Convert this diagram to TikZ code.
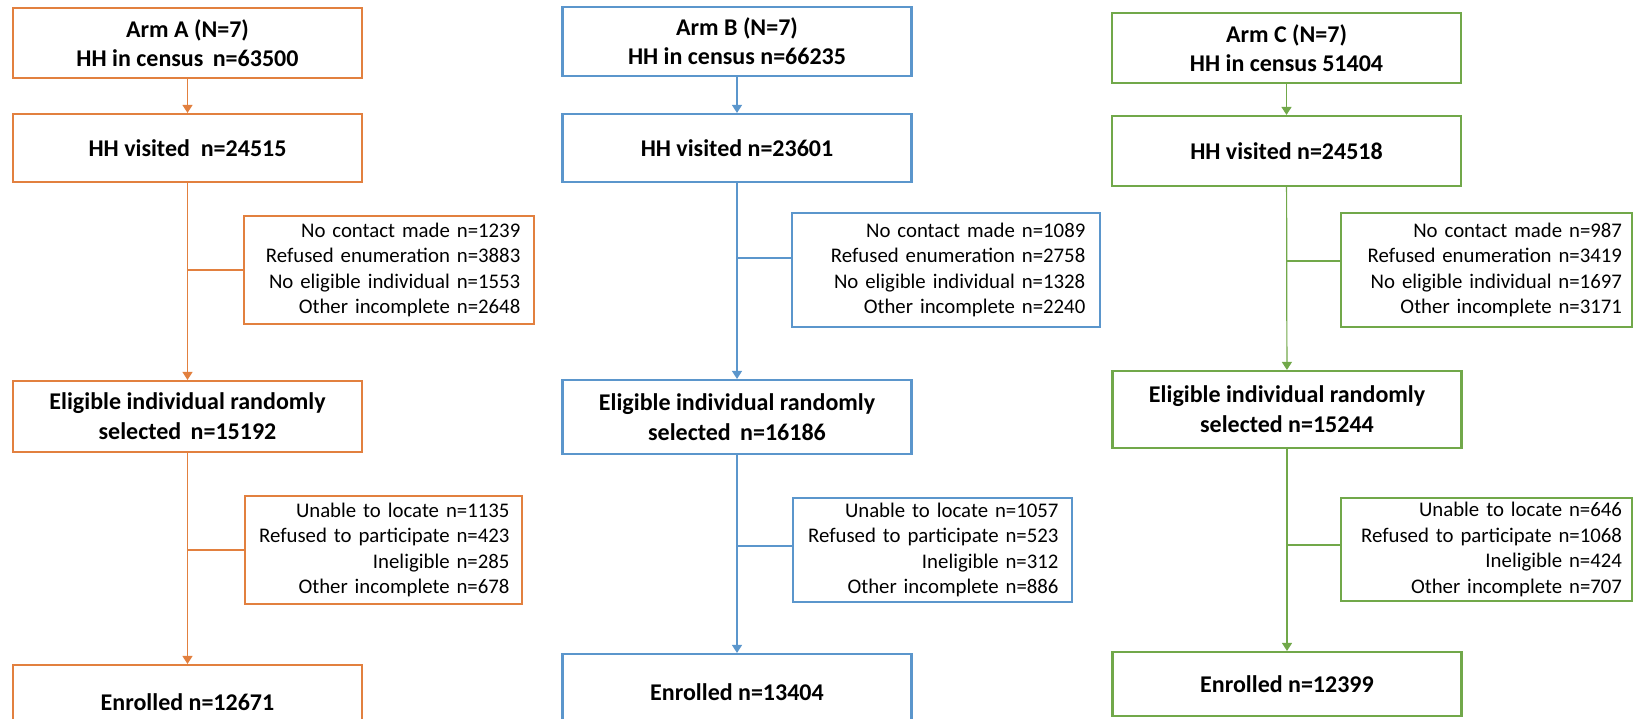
\documentclass[tikz,border=0pt]{standalone}
\usepackage{fontspec}
\setmainfont{Carlito}
\usetikzlibrary{arrows.meta}

\definecolor{colA}{HTML}{E2803F}
\definecolor{colB}{HTML}{5B96CC}
\definecolor{colC}{HTML}{71A84A}

\begin{document}
\begin{tikzpicture}[
  x=0.75pt,
  y=-0.75pt,
  line cap=butt
]

  % styles for boxes and connectors
  \tikzset{
    mainbox/.style={draw=#1, line width=1.6pt, fill=white, minimum width=261.75pt,
      align=center, inner sep=0pt, font=\fontsize{18}{21.75}\selectfont\bfseries},
    dropbox/.style={draw=#1, line width=1.4pt, fill=white, align=right,
      inner sep=0pt, font=\fontsize{15.6}{19.1}\selectfont},
    flow/.style={line width=0.9pt, -{Triangle[width=7.5pt,length=6pt]}},
    branch/.style={line width=0.9pt}
  }

  % one line of a drop-out box, never broken
  \def\dl#1{\mbox{#1}}

  \useasboundingbox (0,0) rectangle (1633,718);

  % arm A
  \node[mainbox=colA, minimum height=52.5pt] (armA) at (187.5,43)
    {Arm A (N=7)\\HH in census\ \,n=63500};
  \node[mainbox=colA, minimum height=51pt] (visitA) at (187.5,148)
    {HH visited\ \ n=24515};
  \node[dropbox=colA, minimum width=217.5pt, text width=197pt,
    minimum height=81pt] (dropA1) at (389,270)
    {\dl{No contact made n=1239}\\\dl{Refused enumeration n=3883}\\
     \dl{No eligible individual n=1553}\\\dl{Other incomplete n=2648}};
  \node[mainbox=colA, minimum height=53.25pt,
    font=\fontsize{18}{22.5}\selectfont\bfseries] (eligA) at (187.5,416.5)
    {Eligible individual randomly\\selected\ \,n=15192};
  \node[dropbox=colA, minimum width=207.75pt, text width=189pt,
    minimum height=81pt] (dropA2) at (383.5,550)
    {\dl{Unable to locate n=1135}\\\dl{Refused to participate n=423}\\
     \dl{Ineligible n=285}\\\dl{Other incomplete n=678}};
  \node[mainbox=colA, minimum height=55.5pt] (enrolA) at (187.5,702)
    {Enrolled n=12671};

  % arm B
  \node[mainbox=colB, minimum height=51.75pt] (armB) at (737,41.5)
    {Arm B (N=7)\\HH in census n=66235};
  \node[mainbox=colB, minimum height=51pt] (visitB) at (737,148)
    {HH visited n=23601};
  \node[dropbox=colB, minimum width=231pt, text width=209pt,
    minimum height=85.5pt] (dropB1) at (946,270)
    {\dl{No contact made n=1089}\\\dl{Refused enumeration n=2758}\\
     \dl{No eligible individual n=1328}\\\dl{Other incomplete n=2240}};
  \node[mainbox=colB, minimum height=55.5pt,
    font=\fontsize{18}{22.5}\selectfont\bfseries] (eligB) at (737,417)
    {Eligible individual randomly\\selected\ \,n=16186};
  \node[dropbox=colB, minimum width=209.25pt, text width=189pt,
    minimum height=78pt] (dropB2) at (932.5,550)
    {\dl{Unable to locate n=1057}\\\dl{Refused to participate n=523}\\
     \dl{Ineligible n=312}\\\dl{Other incomplete n=886}};
  \node[mainbox=colB, minimum height=57pt] (enrolB) at (737,692)
    {Enrolled n=13404};

  % arm C
  \node[mainbox=colC, minimum height=52.5pt] (armC) at (1286.5,48)
    {Arm C (N=7)\\HH in census 51404};
  \node[mainbox=colC, minimum height=52.5pt] (visitC) at (1286.5,151)
    {HH visited n=24518};
  \node[dropbox=colC, minimum width=218.25pt, text width=203.25pt,
    minimum height=85.5pt] (dropC1) at (1486.5,270)
    {\dl{No contact made n=987}\\\dl{Refused enumeration n=3419}\\
     \dl{No eligible individual n=1697}\\\dl{Other incomplete n=3171}};
  \node[mainbox=colC, minimum height=57.75pt,
    font=\fontsize{18}{22.5}\selectfont\bfseries] (eligC) at (1287,409.5)
    {Eligible individual randomly\\selected n=15244};
  \node[dropbox=colC, minimum width=218.25pt, text width=203.25pt,
    minimum height=77.25pt] (dropC2) at (1486.5,549.5)
    {\dl{Unable to locate n=646}\\\dl{Refused to participate n=1068}\\
     \dl{Ineligible n=424}\\\dl{Other incomplete n=707}};
  \node[mainbox=colC, minimum height=48pt] (enrolC) at (1287,684)
    {Enrolled n=12399};

  % connectors, per arm
  \foreach \a/\s/\t in {A/0/0, B/9/3, C/6.75/3.4} {
    \draw[flow, col\a] (arm\a) -- (visit\a);
    \draw[flow, col\a] (visit\a) -- (elig\a);
    \draw[flow, col\a] (elig\a) -- (enrol\a);
    \coordinate (j\a1) at ([yshift=\s pt]drop\a1.west);
    \coordinate (j\a2) at ([yshift=\t pt]drop\a2.west);
    \draw[branch, col\a] (j\a1) -- (j\a1 -| visit\a.south);
    \draw[branch, col\a] (j\a2) -- (j\a2 -| elig\a.south);
  }

\end{tikzpicture}
\end{document}
